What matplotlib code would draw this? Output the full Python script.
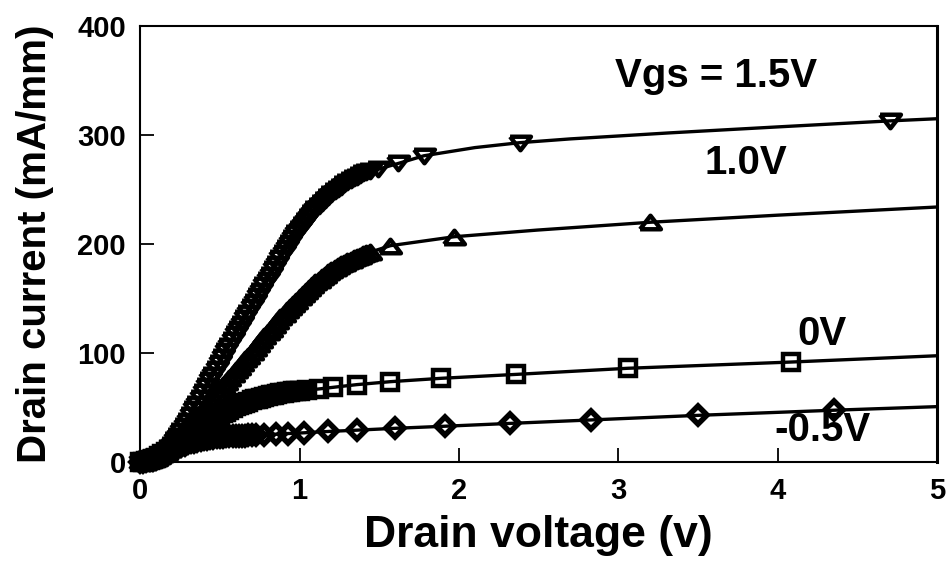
import numpy as np
import matplotlib.pyplot as plt

plt.rcParams['font.family'] = ['Liberation Sans', 'DejaVu Sans']
plt.rcParams['font.weight'] = 'bold'

# drain voltage of the densely sampled part of each sweep (V)
vd_dense = [0.00, 0.02, 0.04, 0.06, 0.08, 0.10, 0.12, 0.14, 0.16, 0.18,
            0.20, 0.22, 0.24, 0.26, 0.28, 0.30, 0.32, 0.34, 0.36, 0.38,
            0.40, 0.42, 0.44, 0.46, 0.48, 0.50, 0.52, 0.54, 0.56, 0.58,
            0.60, 0.62, 0.64, 0.66, 0.68, 0.70, 0.72, 0.74, 0.76, 0.78,
            0.80, 0.82, 0.84, 0.86, 0.88, 0.90, 0.92, 0.94, 0.96, 0.98,
            1.00, 1.02, 1.04, 1.06, 1.08, 1.10, 1.12, 1.14, 1.16, 1.18,
            1.20, 1.22, 1.24, 1.26, 1.28, 1.30, 1.32, 1.34, 1.36, 1.38,
            1.40, 1.42, 1.44]

# Vgs = 1.5 V (mA/mm)
id15_dense = [0, 0.3, 0.8, 1.6, 2.7, 4, 5.8, 8, 10.5, 13.2,
              16, 20, 24.3, 28.8, 33.4, 38, 43.2, 48.4, 53.6, 58.8,
              64, 69.4, 74.8, 80.2, 85.6, 91, 96.2, 101.4, 106.6, 111.8,
              117, 122, 127, 132, 137, 142, 147, 152, 157, 162,
              167, 172, 177, 182, 187, 192, 196.6, 201, 205.4, 209.8,
              214, 217.8, 221.4, 225, 228.6, 232, 235, 237.9, 240.7, 243.4,
              246, 248.3, 250.5, 252.6, 254.9, 257, 258.7, 260.3, 261.9, 263.5,
              265, 266, 267]
vd15_sparse = [1.49, 1.62, 1.78, 2.38, 4.70]
id15_sparse = [268.5, 274, 281, 293, 313]
vd15_fit = [2.10, 2.70, 3.32, 4.00, 5.00]
id15_fit = [288.5, 296.5, 302, 307.5, 315]

# Vgs = 1.0 V
id10_dense = [0, 0.3, 0.8, 1.5, 2.4, 3.5, 5.2, 7.2, 9.3, 11.6,
              14, 17.2, 20.5, 23.9, 27.4, 31, 34.6, 38.2, 41.8, 45.4,
              49, 52.6, 56.2, 59.8, 63.4, 67, 70.4, 73.8, 77.2, 80.6,
              84, 87.4, 90.8, 94.2, 97.6, 101, 104.6, 108.2, 111.8, 115.4,
              119, 122.4, 125.8, 129.2, 132.6, 136, 139.1, 142.1, 145.1, 148.1,
              151, 153.9, 156.7, 159.5, 162.3, 165, 167.4, 169.7, 171.9, 174,
              176, 177.9, 179.6, 181.3, 182.9, 184.5, 185.8, 187.1, 188.3, 189.4,
              190.5, 191.5, 192.4]
vd10_sparse = [1.57, 1.97, 3.20]
id10_sparse = [198.5, 206.7, 220]
vd10_fit = [2.49, 4.00, 5.00]
id10_fit = [212.8, 226.5, 234]

# Vgs = 0 V
id0_dense = [0, 0.4, 1.0, 1.8, 2.8, 4, 5.6, 7.3, 9.1, 11,
             13, 15.2, 17.4, 19.6, 21.8, 24, 26, 28, 30, 32,
             34, 35.8, 37.6, 39.4, 41.2, 43, 44.7, 46.3, 47.9, 49.5,
             51, 52.2, 53.3, 54.4, 55.5, 56.5, 57.4, 58.2, 59, 59.8,
             60.5, 61.1, 61.7, 62.3, 62.9, 63.5, 63.9, 64.3, 64.7, 65.1,
             65.5]
vd0_sparse = [1.05, 1.12, 1.21, 1.36, 1.57, 1.89, 2.36, 3.06, 4.08]
id0_sparse = [66, 67, 68.5, 71, 73.7, 76.8, 80.4, 86, 91.7]
vd0_fit = [5.00]
id0_fit = [97.5]

# Vgs = -0.5 V
idm05_dense = [0, 0.4, 0.9, 1.5, 2.2, 3, 4.6, 6.2, 7.8, 9.4,
               11, 12.3, 13.5, 14.7, 15.9, 17, 17.9, 18.7, 19.5, 20.3,
               21, 21.5, 22, 22.4, 22.7, 23, 23.2, 23.4, 23.6, 23.8,
               24, 24.1, 24.2, 24.3, 24.4, 24.5]
vdm05_sparse = [0.73, 0.78, 0.85, 0.93, 1.03, 1.18, 1.36, 1.60, 1.91,
                2.32, 2.83, 3.50, 4.35]
idm05_sparse = [24.7, 25.0, 25.5, 26.1, 26.8, 28.0, 29.2, 30.9, 32.8,
                35.4, 38.6, 42.8, 47.5]
vdm05_fit = [5.00]
idm05_fit = [50.8]

curve_labels = ['Vgs = 1.5V', '1.0V', '0V', '-0.5V']
label_pos = [(2.98, 354), (3.54, 274), (4.12, 117), (3.98, 29)]

# flattened triangles like the original plot symbols
tri_down = [(-1, 0.65), (1, 0.65), (0, -0.65), (-1, 0.65)]
tri_up = [(-1, -0.65), (1, -0.65), (0, 0.65), (-1, -0.65)]

series = [
    (id15_dense, vd15_sparse, id15_sparse, vd15_fit, id15_fit, tri_down, 15, 3.2),
    (id10_dense, vd10_sparse, id10_sparse, vd10_fit, id10_fit, tri_up, 15, 3.2),
    (id0_dense, vd0_sparse, id0_sparse, vd0_fit, id0_fit, 's', 11, 3.2),
    (idm05_dense, vdm05_sparse, idm05_sparse, vdm05_fit, idm05_fit, 'D', 9.5, 4.0),
]

fig = plt.figure(figsize=(9.46, 5.61), dpi=100)
ax = fig.add_axes([0.148, 0.1765, 0.843, 0.777])

for dense_i, sv, si, fv, fi, mk, ms, mew in series:
    dv = vd_dense[:len(dense_i)]
    mv = list(dv) + sv
    mi = list(dense_i) + si
    ax.plot(mv, mi, linestyle='none', marker=mk, markersize=ms,
            markerfacecolor='none', markeredgecolor='black',
            markeredgewidth=mew, clip_on=False, zorder=2)
    lv = np.array(mv + fv)
    li = np.array(mi + fi)
    order = np.argsort(lv)
    ax.plot(lv[order], li[order], color='black', linewidth=2.4, zorder=3)

for txt, (x, y) in zip(curve_labels, label_pos):
    ax.text(x, y, txt, fontsize=29, fontweight='bold', ha='left', va='center')

ax.set_xlim(0, 5)
ax.set_ylim(0, 400)
ax.set_xticks([0, 1, 2, 3, 4, 5])
ax.set_yticks([0, 100, 200, 300, 400])
ax.tick_params(direction='in', length=10, width=1.3, labelsize=21)
ax.tick_params(axis='y', pad=10)
ax.tick_params(axis='x', pad=11)
for lab in ax.get_xticklabels() + ax.get_yticklabels():
    lab.set_fontweight('bold')
for side in ['left', 'bottom', 'top']:
    ax.spines[side].set_linewidth(1.5)
ax.spines['right'].set_linewidth(2.2)

ax.set_xlabel('Drain voltage (v)', fontsize=32, fontweight='bold', labelpad=7)
ax.set_ylabel('Drain current (mA/mm)', fontsize=29, fontweight='bold', labelpad=17)

plt.savefig('out.png', dpi=100)
